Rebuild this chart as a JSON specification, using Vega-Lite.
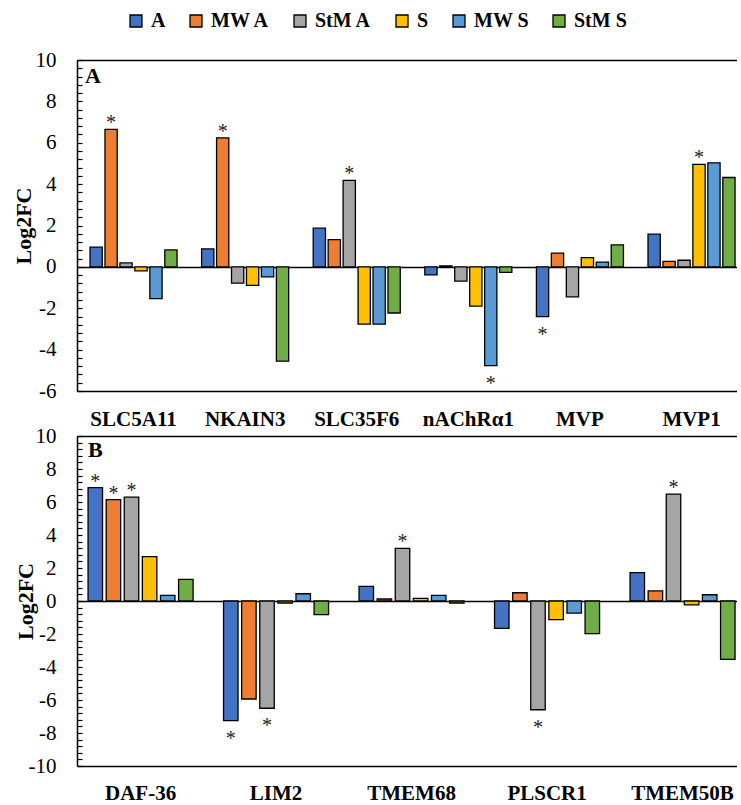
{
  "$schema": "https://vega.github.io/schema/vega-lite/v6.json",
  "background": "white",
  "padding": {"left": 12, "top": 11, "right": 0, "bottom": 0},
  "spacing": -4,
  "datasets": {
    "a": [
      {"gene": "SLC5A11", "group": "A", "v": 0.95, "star": false},
      {"gene": "SLC5A11", "group": "MW A", "v": 6.65, "star": true},
      {"gene": "SLC5A11", "group": "StM A", "v": 0.19, "star": false},
      {"gene": "SLC5A11", "group": "S", "v": -0.19, "star": false},
      {"gene": "SLC5A11", "group": "MW S", "v": -1.53, "star": false},
      {"gene": "SLC5A11", "group": "StM S", "v": 0.82, "star": false},
      {"gene": "NKAIN3", "group": "A", "v": 0.87, "star": false},
      {"gene": "NKAIN3", "group": "MW A", "v": 6.24, "star": true},
      {"gene": "NKAIN3", "group": "StM A", "v": -0.79, "star": false},
      {"gene": "NKAIN3", "group": "S", "v": -0.89, "star": false},
      {"gene": "NKAIN3", "group": "MW S", "v": -0.48, "star": false},
      {"gene": "NKAIN3", "group": "StM S", "v": -4.56, "star": false},
      {"gene": "SLC35F6", "group": "A", "v": 1.87, "star": false},
      {"gene": "SLC35F6", "group": "MW A", "v": 1.32, "star": false},
      {"gene": "SLC35F6", "group": "StM A", "v": 4.18, "star": true},
      {"gene": "SLC35F6", "group": "S", "v": -2.77, "star": false},
      {"gene": "SLC35F6", "group": "MW S", "v": -2.77, "star": false},
      {"gene": "SLC35F6", "group": "StM S", "v": -2.23, "star": false},
      {"gene": "nAChRα1", "group": "A", "v": -0.39, "star": false},
      {"gene": "nAChRα1", "group": "MW A", "v": 0.05, "star": false},
      {"gene": "nAChRα1", "group": "StM A", "v": -0.69, "star": false},
      {"gene": "nAChRα1", "group": "S", "v": -1.9, "star": false},
      {"gene": "nAChRα1", "group": "MW S", "v": -4.77, "star": true},
      {"gene": "nAChRα1", "group": "StM S", "v": -0.27, "star": false},
      {"gene": "MVP", "group": "A", "v": -2.4, "star": true},
      {"gene": "MVP", "group": "MW A", "v": 0.66, "star": false},
      {"gene": "MVP", "group": "StM A", "v": -1.45, "star": false},
      {"gene": "MVP", "group": "S", "v": 0.45, "star": false},
      {"gene": "MVP", "group": "MW S", "v": 0.23, "star": false},
      {"gene": "MVP", "group": "StM S", "v": 1.06, "star": false},
      {"gene": "MVP1", "group": "A", "v": 1.58, "star": false},
      {"gene": "MVP1", "group": "MW A", "v": 0.27, "star": false},
      {"gene": "MVP1", "group": "StM A", "v": 0.32, "star": false},
      {"gene": "MVP1", "group": "S", "v": 4.95, "star": true},
      {"gene": "MVP1", "group": "MW S", "v": 5.03, "star": false},
      {"gene": "MVP1", "group": "StM S", "v": 4.32, "star": false}
    ],
    "b": [
      {"gene": "DAF-36", "group": "A", "v": 6.87, "star": true},
      {"gene": "DAF-36", "group": "MW A", "v": 6.14, "star": true},
      {"gene": "DAF-36", "group": "StM A", "v": 6.3, "star": true},
      {"gene": "DAF-36", "group": "S", "v": 2.69, "star": false},
      {"gene": "DAF-36", "group": "MW S", "v": 0.34, "star": false},
      {"gene": "DAF-36", "group": "StM S", "v": 1.31, "star": false},
      {"gene": "LIM2", "group": "A", "v": -7.25, "star": true},
      {"gene": "LIM2", "group": "MW A", "v": -5.94, "star": false},
      {"gene": "LIM2", "group": "StM A", "v": -6.5, "star": true},
      {"gene": "LIM2", "group": "S", "v": -0.12, "star": false},
      {"gene": "LIM2", "group": "MW S", "v": 0.44, "star": false},
      {"gene": "LIM2", "group": "StM S", "v": -0.83, "star": false},
      {"gene": "TMEM68", "group": "A", "v": 0.89, "star": false},
      {"gene": "TMEM68", "group": "MW A", "v": 0.12, "star": false},
      {"gene": "TMEM68", "group": "StM A", "v": 3.19, "star": true},
      {"gene": "TMEM68", "group": "S", "v": 0.16, "star": false},
      {"gene": "TMEM68", "group": "MW S", "v": 0.34, "star": false},
      {"gene": "TMEM68", "group": "StM S", "v": -0.12, "star": false},
      {"gene": "PLSCR1", "group": "A", "v": -1.66, "star": false},
      {"gene": "PLSCR1", "group": "MW A", "v": 0.5, "star": false},
      {"gene": "PLSCR1", "group": "StM A", "v": -6.59, "star": true},
      {"gene": "PLSCR1", "group": "S", "v": -1.13, "star": false},
      {"gene": "PLSCR1", "group": "MW S", "v": -0.73, "star": false},
      {"gene": "PLSCR1", "group": "StM S", "v": -1.98, "star": false},
      {"gene": "TMEM50B", "group": "A", "v": 1.72, "star": false},
      {"gene": "TMEM50B", "group": "MW A", "v": 0.61, "star": false},
      {"gene": "TMEM50B", "group": "StM A", "v": 6.48, "star": true},
      {"gene": "TMEM50B", "group": "S", "v": -0.24, "star": false},
      {"gene": "TMEM50B", "group": "MW S", "v": 0.38, "star": false},
      {"gene": "TMEM50B", "group": "StM S", "v": -3.54, "star": false}
    ]
  },
  "vconcat": [
    {
      "width": 660,
      "height": 331,
      "data": {"name": "a"},
      "title": {"text": "A", "anchor": "start", "frame": "group", "orient": "top", "offset": -39, "dx": 8, "font": "Liberation Serif", "fontSize": 22, "fontWeight": "bold", "color": "black"},
      "encoding": {
        "x": {"field": "gene", "type": "nominal", "sort": ["SLC5A11", "NKAIN3", "SLC35F6", "nAChRα1", "MVP", "MVP1"], "title": null,
          "scale": {"paddingInner": 0.22, "paddingOuter": 0.067, "align": 0.87},
          "axis": {"labelAngle": 0, "ticks": false, "labelPadding": 17, "labelFontWeight": "bold", "labelFontSize": 21, "labelFont": "Liberation Serif", "labelColor": "black", "domainColor": "black", "domainWidth": 1.5}},
        "y": {"field": "v", "type": "quantitative", "title": "Log2FC",
          "scale": {"domain": [-6, 10], "nice": false, "zero": false},
          "axis": {"values": [-6, -5.6, -5.2, -4.8, -4.4, -4, -3.6, -3.2, -2.8, -2.4, -2, -1.6, -1.2, -0.8, -0.4, 0, 0.4, 0.8, 1.2, 1.6, 2, 2.4, 2.8, 3.2, 3.6, 4, 4.4, 4.8, 5.2, 5.6, 6, 6.4, 6.8, 7.2, 7.6, 8, 8.4, 8.8, 9.2, 9.6, 10],
            "labelExpr": "datum.value % 2 === 0 ? '' + datum.value : ''",
            "tickSize": -5,
            "labelPadding": 26,
            "grid": true, "gridColor": "black", "gridWidth": 1.3,
            "gridOpacity": {"condition": {"test": "datum.value === 0 || datum.value === 10", "value": 1}, "value": 0},
            "domainColor": "black", "domainWidth": 1.5, "tickColor": "black", "tickWidth": 1.2,
            "labelFont": "Liberation Serif", "labelFontSize": 21, "labelColor": "black",
            "titleFont": "Liberation Serif", "titleFontSize": 22, "titleFontWeight": "bold", "titleColor": "black", "titlePadding": 0}}
      },
      "layer": [
        {"mark": {"type": "bar", "stroke": "black", "strokeWidth": 1.3},
          "encoding": {
            "xOffset": {"field": "group", "sort": ["A", "MW A", "StM A", "S", "MW S", "StM S"], "scale": {"paddingInner": 0.18, "paddingOuter": 0}},
            "color": {"field": "group", "type": "nominal", "title": null,
              "scale": {"domain": ["A", "MW A", "StM A", "S", "MW S", "StM S"], "range": ["#4472C4", "#ED7D31", "#A5A5A5", "#FFC000", "#5B9BD5", "#70AD47"]},
              "legend": {"orient": "none", "legendX": 49, "legendY": -49, "direction": "horizontal", "labelFont": "Liberation Serif", "labelFontSize": 20, "labelFontWeight": "bold", "labelColor": "black", "symbolType": "square", "symbolSize": 144, "symbolStrokeColor": "black", "symbolStrokeWidth": 1.3, "symbolOpacity": 1, "labelOffset": 5, "columnPadding": 20}}
          }},
        {"transform": [{"filter": "datum.star && datum.v > 0"}],
          "mark": {"type": "text", "text": "*", "font": "Liberation Serif", "fontSize": 20, "baseline": "alphabetic", "dy": 0, "color": "#222"},
          "encoding": {"xOffset": {"field": "group", "sort": ["A", "MW A", "StM A", "S", "MW S", "StM S"]}}},
        {"transform": [{"filter": "datum.star && datum.v < 0"}],
          "mark": {"type": "text", "text": "*", "font": "Liberation Serif", "fontSize": 20, "baseline": "alphabetic", "dy": 24, "color": "#222"},
          "encoding": {"xOffset": {"field": "group", "sort": ["A", "MW A", "StM A", "S", "MW S", "StM S"]}}}
      ]
    },
    {
      "width": 660,
      "height": 330,
      "data": {"name": "b"},
      "title": {"text": "B", "anchor": "start", "frame": "group", "orient": "top", "offset": -37, "dx": 11, "font": "Liberation Serif", "fontSize": 22, "fontWeight": "bold", "color": "black"},
      "encoding": {
        "x": {"field": "gene", "type": "nominal", "sort": ["DAF-36", "LIM2", "TMEM68", "PLSCR1", "TMEM50B"], "title": null,
          "scale": {"paddingInner": 0.225, "paddingOuter": 0.048, "align": 0.85},
          "axis": {"labelAngle": 0, "ticks": false, "labelPadding": 16, "labelFontWeight": "bold", "labelFontSize": 21, "labelFont": "Liberation Serif", "labelColor": "black", "domainColor": "black", "domainWidth": 1.5}},
        "y": {"field": "v", "type": "quantitative", "title": "Log2FC",
          "scale": {"domain": [-10, 10], "nice": false, "zero": false},
          "axis": {"values": [-10, -9.6, -9.2, -8.8, -8.4, -8, -7.6, -7.2, -6.8, -6.4, -6, -5.6, -5.2, -4.8, -4.4, -4, -3.6, -3.2, -2.8, -2.4, -2, -1.6, -1.2, -0.8, -0.4, 0, 0.4, 0.8, 1.2, 1.6, 2, 2.4, 2.8, 3.2, 3.6, 4, 4.4, 4.8, 5.2, 5.6, 6, 6.4, 6.8, 7.2, 7.6, 8, 8.4, 8.8, 9.2, 9.6, 10],
            "labelExpr": "datum.value % 2 === 0 ? '' + datum.value : ''",
            "tickSize": -5,
            "labelPadding": 26,
            "grid": true, "gridColor": "black", "gridWidth": 1.3,
            "gridOpacity": {"condition": {"test": "datum.value === 0 || datum.value === 10", "value": 1}, "value": 0},
            "domainColor": "black", "domainWidth": 1.5, "tickColor": "black", "tickWidth": 1.2,
            "labelFont": "Liberation Serif", "labelFontSize": 21, "labelColor": "black",
            "titleFont": "Liberation Serif", "titleFontSize": 22, "titleFontWeight": "bold", "titleColor": "black", "titlePadding": -9}}
      },
      "layer": [
        {"mark": {"type": "bar", "stroke": "black", "strokeWidth": 1.3},
          "encoding": {
            "xOffset": {"field": "group", "sort": ["A", "MW A", "StM A", "S", "MW S", "StM S"], "scale": {"paddingInner": 0.2, "paddingOuter": 0}},
            "color": {"field": "group", "type": "nominal", "title": null,
              "scale": {"domain": ["A", "MW A", "StM A", "S", "MW S", "StM S"], "range": ["#4472C4", "#ED7D31", "#A5A5A5", "#FFC000", "#5B9BD5", "#70AD47"]}}
          }},
        {"transform": [{"filter": "datum.star && datum.v > 0"}],
          "mark": {"type": "text", "text": "*", "font": "Liberation Serif", "fontSize": 20, "baseline": "alphabetic", "dy": 0, "color": "#222"},
          "encoding": {"xOffset": {"field": "group", "sort": ["A", "MW A", "StM A", "S", "MW S", "StM S"]}}},
        {"transform": [{"filter": "datum.star && datum.v < 0"}],
          "mark": {"type": "text", "text": "*", "font": "Liberation Serif", "fontSize": 20, "baseline": "alphabetic", "dy": 24, "color": "#222"},
          "encoding": {"xOffset": {"field": "group", "sort": ["A", "MW A", "StM A", "S", "MW S", "StM S"]}}}
      ]
    }
  ],
  "resolve": {"scale": {"x": "independent", "y": "independent", "xOffset": "independent"}},
  "config": {"view": {"stroke": null}, "font": "Liberation Serif"}
}
